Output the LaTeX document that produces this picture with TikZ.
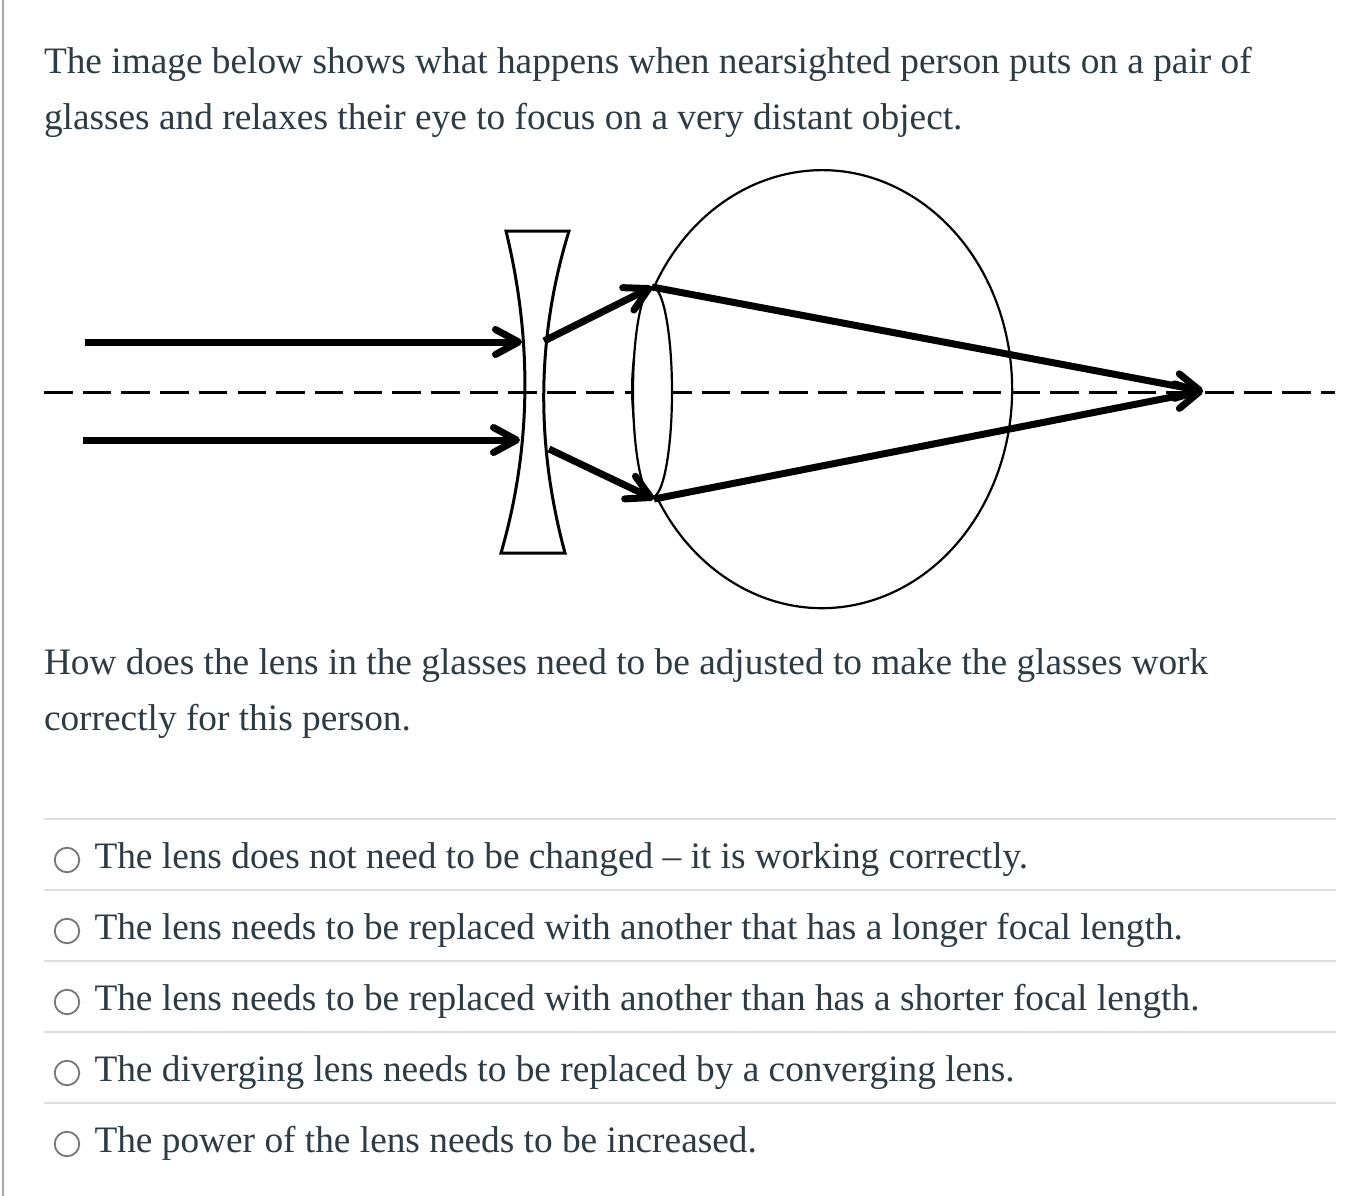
\documentclass[tikz,border=0pt]{standalone}
\usepackage{fontspec}
\setmainfont{Liberation Serif}
\usetikzlibrary{arrows.meta,shapes.geometric}
\definecolor{inktext}{HTML}{2D3B45}
\definecolor{rulegrey}{HTML}{DDDDDD}
\definecolor{radiogrey}{HTML}{767676}
\definecolor{edgegrey}{HTML}{A8A8A8}
\tikzset{
  x=1pt,y=-1pt,
  txt/.style={anchor=base west,inner sep=0pt,outer sep=0pt,text=inktext,font=\fontsize{37.33}{37.33}\selectfont},
  thinrule/.style={draw=rulegrey,line width=1.5pt},
  radio/.style={circle,draw=radiogrey,fill=white,line width=1.8pt,minimum size=24.5pt,inner sep=0pt},
  optic/.style={draw=black,line width=2.2pt},
  specs/.style={draw=black,line width=3pt},
  ray/.style={draw=black,line width=7pt},
  rayhead/.style={ray,-{Straight Barb[length=23pt,width=25pt,line width=7pt,round]}},
  axisline/.style={draw=black,line width=3pt,dash pattern=on 28.5pt off 10.2pt},
}
\begin{document}
\begin{tikzpicture}
\useasboundingbox (0,0) rectangle (1350,1196);
\fill[white] (0,0) rectangle (1350,1196);
\draw[edgegrey,line width=2.2pt] (2.6,0) -- (2.6,1196);

\node[txt] (q1) at (44,74) {The image below shows what happens when nearsighted person puts on a pair of};
\node[txt] (q2) at (44,130) {glasses and relaxes their eye to focus on a very distant object.};
\node[txt] (q3) at (44,674.5) {How does the lens in the glasses need to be adjusted to make the glasses work};
\node[txt] (q4) at (44,730.5) {correctly for this person.};

% optical axis
\draw[axisline] (44,392) -- (1335,392);

% eyeball
\draw[optic] (655,285) arc[start angle=208.4,end angle=-208.4,x radius=190,y radius=219];
% eye lens
\node[optic,fill=white,ellipse,minimum width=39pt,minimum height=210pt,inner sep=0pt] (eyelens) at (652.5,392) {};

% spectacle lens
\draw[specs,line join=miter] (506,231) -- (569,231)
  .. controls (536,338) and (536,446) .. (565,553)
  -- (501,553)
  .. controls (532,446) and (532,338) .. (506,231) -- cycle;

% ray points
\coordinate (a1) at (85,342);
\coordinate (a2) at (522,342);
\coordinate (b1) at (83,440);
\coordinate (b2) at (520,440);
\coordinate (c1) at (544,341);
\coordinate (c2) at (652,287);
\coordinate (d1) at (549,449);
\coordinate (d2) at (654,499);
\coordinate (f) at (1203,391);

\draw[rayhead] (a1) -- (a2);
\draw[rayhead] (b1) -- (b2);
\draw[rayhead] (c1) -- (c2);
\draw[rayhead] (d1) -- (d2);
\draw[rayhead] (c2) -- (f);
\draw[rayhead] (d2) -- (f);

% answer options
\foreach \yy in {819,890,961,1032,1103}{\draw[thinrule] (44,\yy) -- (1336,\yy);}
\node[radio] (r1) at (67,860) {};
\node[radio] (r2) at (67,931) {};
\node[radio] (r3) at (67,1002) {};
\node[radio] (r4) at (67,1073) {};
\node[radio] (r5) at (67,1144) {};
\node[txt] (o1) at (94.5,868) {The lens does not need to be changed – it is working correctly.};
\node[txt] (o2) at (94.5,939) {The lens needs to be replaced with another that has a longer focal length.};
\node[txt] (o3) at (94.5,1010) {The lens needs to be replaced with another than has a shorter focal length.};
\node[txt] (o4) at (94.5,1081) {The diverging lens needs to be replaced by a converging lens.};
\node[txt] (o5) at (94.5,1152) {The power of the lens needs to be increased.};
\end{tikzpicture}
\end{document}
